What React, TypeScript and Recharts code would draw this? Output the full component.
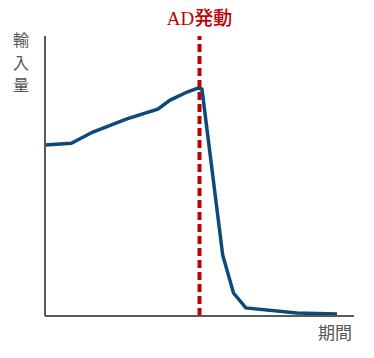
import React from 'react';
import { LineChart, Line, XAxis, YAxis, ReferenceLine, Label } from 'recharts';

// period (x) and import volume (y)
const periods = [0, 8.5, 15.5, 26.5, 36.5, 40.5, 46, 49.5, 50.8, 57.5, 61, 65, 81.5, 94.5];
const imports = [61.1, 61.7, 65.7, 70.4, 73.9, 77.1, 80, 81.4, 81, 21.8, 8.2, 2.9, 1.1, 0.7];
const adStart = 50;

const yTitle = ['輸', '入', '量'];
const xTitle = '期間';
const adLabel = 'AD発動';

const data = periods.map((x, i) => ({ x, y: imports[i] }));

const sans = '"Noto Sans CJK JP", "Noto Sans", sans-serif';
const serif = '"Liberation Serif", "Noto Sans CJK JP", serif';

function YTitle(props: any) {
  const vb = props.viewBox;
  return (
    <g>
      {yTitle.map((ch, i) => (
        <text key={ch} x={vb.x - 23} y={vb.y + 10 + i * 22.5} textAnchor="middle" fontSize={16} fill="#555555" fontFamily={sans}>
          {ch}
        </text>
      ))}
    </g>
  );
}

function XTitle(props: any) {
  const vb = props.viewBox;
  return (
    <text x={vb.x + vb.width - 2} y={vb.y + 23} textAnchor="end" fontSize={17} fill="#555555" fontFamily={sans}>
      {xTitle}
    </text>
  );
}

export default function App() {
  return (
    <div style={{ position: 'absolute', left: 0, top: 0 }}>
      <LineChart width={374} height={358} data={data} margin={{ top: 36, right: 20, left: 44, bottom: 41 }}>
        <XAxis type="number" dataKey="x" domain={[0, 100]} height={1} tick={false} tickLine={false} axisLine={{ stroke: '#595959', strokeWidth: 2 }}>
          <Label content={XTitle} />
        </XAxis>
        <YAxis type="number" domain={[0, 100]} width={1} tick={false} tickLine={false} axisLine={{ stroke: '#595959', strokeWidth: 2 }}>
          <Label content={YTitle} />
        </YAxis>
        <ReferenceLine
          x={adStart}
          stroke="#c00000"
          strokeWidth={4}
          strokeDasharray="8 4"
          label={{ value: adLabel, position: 'top', offset: 11, fill: '#c00000', fontSize: 19, fontWeight: 500, fontFamily: serif }}
        />
        <Line type="linear" dataKey="y" stroke="#0d4a7a" strokeWidth={3.5} dot={false} isAnimationActive={false} />
      </LineChart>
    </div>
  );
}
